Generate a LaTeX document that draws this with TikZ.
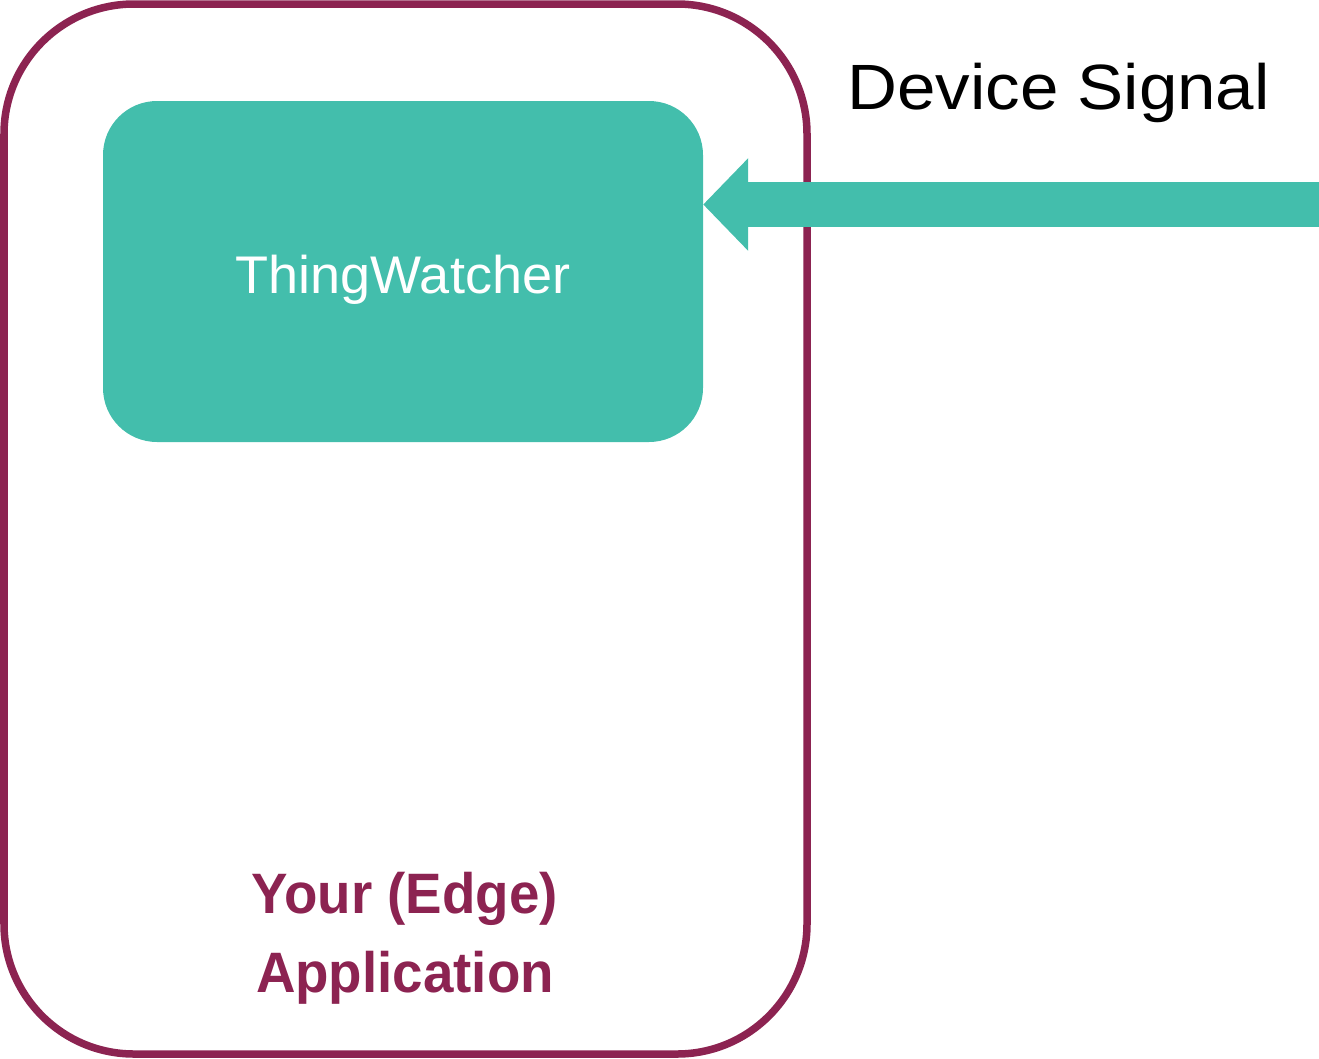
\documentclass[tikz,border=0pt]{standalone}
\usepackage{fontspec}
\setmainfont{Liberation Sans}
\newfontfamily\signalfont[FakeStretch=1.08]{Liberation Sans}
\newfontfamily\watchfont[FakeStretch=1.02]{Liberation Sans}
\newfontfamily\appfont[FakeStretch=0.96]{Liberation Sans}
\usetikzlibrary{arrows.meta}
\definecolor{appred}{HTML}{8C2351}
\definecolor{watchteal}{HTML}{43BEAC}
\tikzset{
  appbox/.style={draw=appred, line width=7.5pt, rounded corners=130pt,
    minimum width=803pt, minimum height=1050pt, inner sep=0pt},
  watchbox/.style={fill=watchteal, rounded corners=54pt, text=white,
    minimum width=600pt, minimum height=341pt, inner sep=0pt,
    font=\watchfont\fontsize{53}{60}\selectfont, text height=43pt, text depth=0pt},
  signal/.style={draw=watchteal, line width=45pt,
    -{Triangle[length=45pt, width=90pt]}},
  applabel/.style={text=appred, align=center, inner sep=0pt,
    font=\appfont\bfseries\fontsize{57}{79}\selectfont},
  signallabel/.style={inner sep=0pt, font=\signalfont\fontsize{64}{70}\selectfont}
}
\begin{document}
\begin{tikzpicture}[x=1pt, y=-1pt]
  \useasboundingbox (0,0) rectangle (1319,1058);
  % the application container
  \node[appbox] (app) at (405.5,529) {};
  % the watcher component
  \node[watchbox] (tw) at (403,271.5) {ThingWatcher};
  % incoming device signal
  \coordinate (src) at (1319,204.5);
  \draw[signal] (src) -- (src -| tw.east);
  \node[signallabel, anchor=base west] (sig) at (847,109) {Device Signal};
  % the base of a two-line node is its last line
  \node[applabel, anchor=base] (lbl) at (405,992) {Your (Edge)\\Application};
\end{tikzpicture}
\end{document}
